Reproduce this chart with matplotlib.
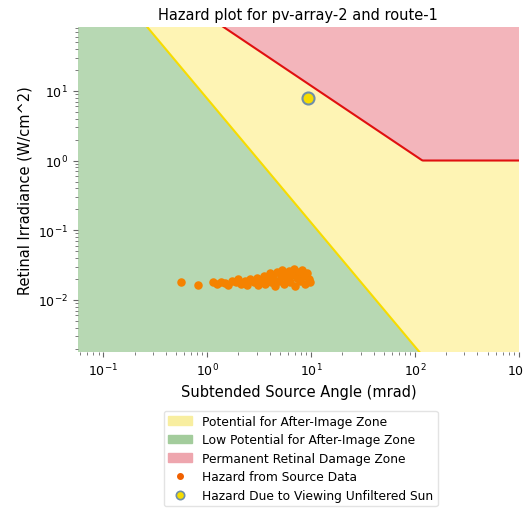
import numpy as np
import matplotlib
matplotlib.use('Agg')
import matplotlib.pyplot as plt
from matplotlib.patches import Patch
from matplotlib.lines import Line2D

# threshold curves (angle in mrad, irradiance in W/cm^2)
after_angle = [0.265, 107.0]
after_irr = [82.0, 0.0019]
burn_angle = [1.0, 118.0, 1000.0]
burn_irr = [118.0, 1.0, 1.0]

# glare hazard from source data
src_angle = [0.56, 0.82, 1.15, 1.25, 1.35, 1.5, 1.6, 1.75, 1.9, 2.0, 2.1, 2.3, 2.4,
             2.6, 2.8, 3.0, 3.1, 3.3, 3.5, 3.6, 3.8, 4.0, 4.1, 4.3, 4.5, 4.7, 4.9,
             5.1, 5.3, 5.5, 5.7, 5.9, 6.1, 6.3, 6.6, 6.8, 7.0, 7.3, 7.6, 7.9, 8.2,
             8.5, 8.8, 9.1, 9.5, 9.8]
src_irr = [0.018, 0.0165, 0.018, 0.017, 0.018, 0.0175, 0.0165, 0.019, 0.018, 0.02,
           0.017, 0.019, 0.0165, 0.02, 0.018, 0.021, 0.0165, 0.019, 0.022, 0.017,
           0.02, 0.024, 0.018, 0.021, 0.016, 0.025, 0.019, 0.022, 0.027, 0.017,
           0.024, 0.02, 0.026, 0.018, 0.023, 0.028, 0.016, 0.021, 0.025, 0.019,
           0.027, 0.022, 0.017, 0.024, 0.02, 0.018]

sun_angle = [9.3]
sun_irr = [8.0]

xlim = (0.057, 1000)
ylim = (0.0018, 82)

c_yellow = '#fef4b4'
c_green = '#b7d8b3'
c_red = '#f3b5bb'

fig = plt.figure(figsize=(5.23, 5.1), dpi=100)
ax = fig.add_axes([0.149, 0.308, 0.843, 0.637])

x = np.logspace(-2, 4, 600)
# after-image line is straight in log-log space
la, li = np.log10(after_angle), np.log10(after_irr)
slope = (li[1] - li[0]) / (la[1] - la[0])
y_after = 10 ** (li[0] + slope * (np.log10(x) - la[0]))
y_burn = 10 ** np.interp(np.log10(x), np.log10(burn_angle), np.log10(burn_irr))
y_burn = np.where(x < burn_angle[0], burn_irr[0] * burn_angle[0] / x, y_burn)

ax.fill_between(x, 1e-6, y_after, color=c_green, lw=0)
ax.fill_between(x, y_after, y_burn, where=y_burn > y_after, color=c_yellow, lw=0)
ax.fill_between(x, y_burn, 1e6, color=c_red, lw=0)
ax.plot(x, y_after, color='#f7dc00', lw=1.5)
ax.plot(x, y_burn, color='#e01010', lw=1.5)

ax.scatter(src_angle, src_irr, s=26, color='#f58200', zorder=3)
ax.scatter(sun_angle, sun_irr, s=75, color='#f5dc00', edgecolors='#6f8fa8', linewidths=1.5, zorder=4)

ax.set_xscale('log')
ax.set_yscale('log')
ax.set_xlim(xlim)
ax.set_ylim(ylim)
for s in ax.spines.values():
    s.set_visible(False)
ax.tick_params(which='both', colors='#666666', labelcolor='black', labelsize=9)
ax.set_title('Hazard plot for pv-array-2 and route-1', fontsize=10.5)
ax.set_xlabel('Subtended Source Angle (mrad)', fontsize=10.5)
ax.set_ylabel('Retinal Irradiance (W/cm^2)', fontsize=10.5)

handles = [
    Patch(color='#f8eea0', label='Potential for After-Image Zone'),
    Patch(color='#a3cc9c', label='Low Potential for After-Image Zone'),
    Patch(color='#eea6ae', label='Permanent Retinal Damage Zone'),
    Line2D([], [], ls='', marker='o', markersize=4, color='#f06000', label='Hazard from Source Data'),
    Line2D([], [], ls='', marker='o', markersize=6, markerfacecolor='#f5dc00',
           markeredgecolor='#6f8fa8', markeredgewidth=1.2, label='Hazard Due to Viewing Unfiltered Sun'),
]
leg = fig.legend(handles=handles, loc='upper center', bbox_to_anchor=(0.575, 0.205), fontsize=8.8,
                 frameon=True, labelspacing=0.45, borderpad=0.35)
leg.get_frame().set_edgecolor('#dddddd')

fig.savefig('out.png', dpi=100)
